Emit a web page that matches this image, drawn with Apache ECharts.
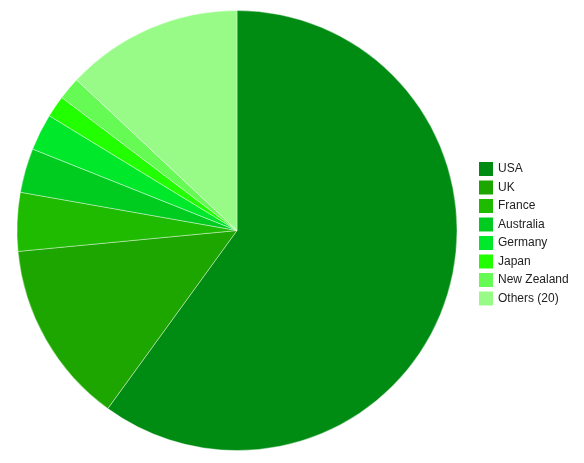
<!DOCTYPE html>
<html><head><meta charset="utf-8">
<script src="https://cdn.jsdelivr.net/npm/echarts@6/dist/echarts.min.js"></script>
<style>html,body{margin:0;padding:0;background:#fff}#c{width:584px;height:463px}</style>
</head><body><div id="c"></div>
<script>
const categories = ['USA','UK','France','Australia','Germany','Japan','New Zealand','Others (20)'];
const values = [60.0, 13.5, 4.3, 3.25, 2.7, 1.6, 1.67, 13.0];
const colors = ['#008c12','#1da600','#1fbb00','#00cc20','#00e82a','#22ff00','#66fa55','#98fb88'];
const chart = echarts.init(document.getElementById('c'), null, {renderer:'canvas'});
chart.setOption({
  animation:false,
  color: colors,
  legend:{
    orient:'vertical', left:479, top:162, padding:0,
    itemWidth:14, itemHeight:14, itemGap:4.5, itemTextGap:5, icon:'rect',
    itemStyle:{borderWidth:0},
    textStyle:{fontFamily:'Liberation Sans, Arial', fontSize:12, color:'#222', padding:[2,0,0,0]},
    data: categories
  },
  series:[{
    type:'pie', center:[237,230.5], radius:220, startAngle:90, clockwise:true,
    label:{show:false}, labelLine:{show:false},
    itemStyle:{borderColor:'#ffffff', borderWidth:0.4},
    emphasis:{disabled:true},
    data: categories.map((c,i)=>({name:c, value:values[i]}))
  }]
});
</script></body></html>
